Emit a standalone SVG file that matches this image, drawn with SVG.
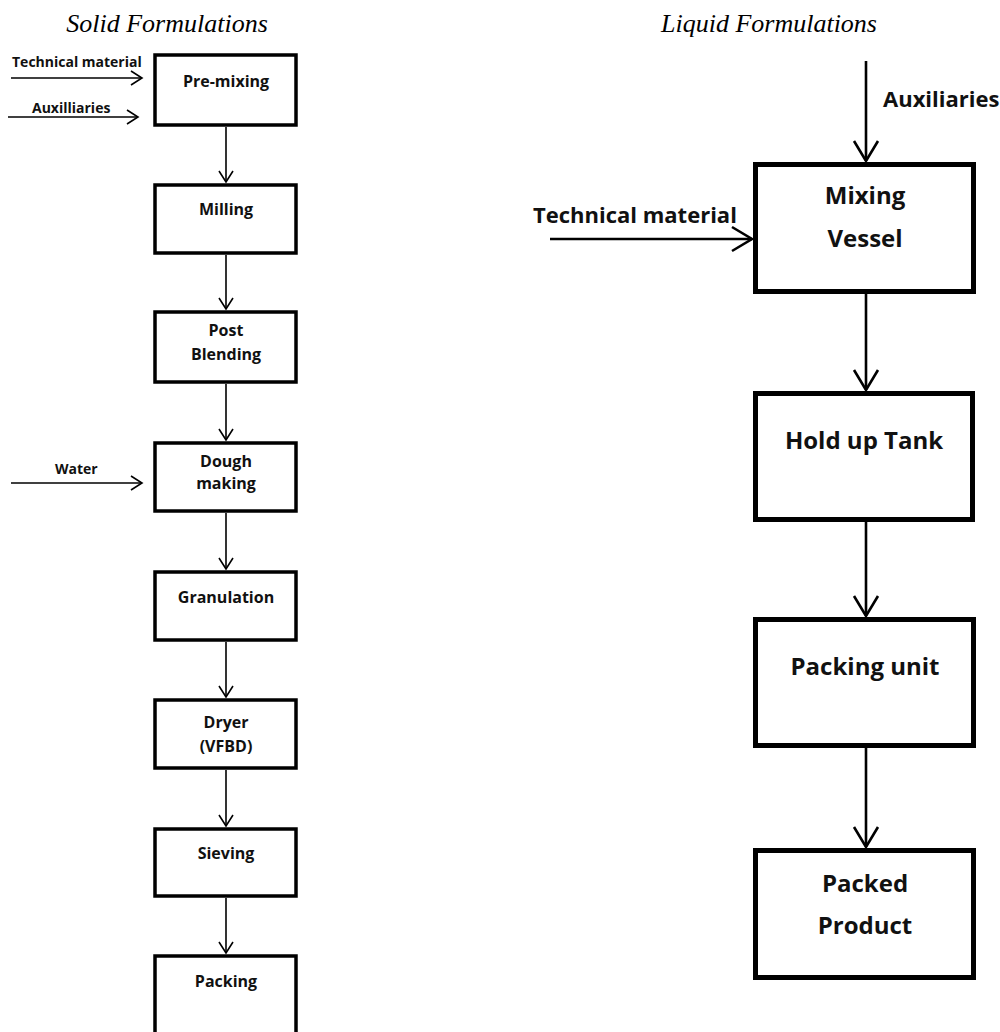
<svg xmlns="http://www.w3.org/2000/svg" width="1000" height="1032" viewBox="0 0 1000 1032">
<style>
.title{font-family:"Liberation Serif","Times New Roman",serif;font-style:italic;font-size:26px;fill:#000;text-anchor:middle}
.lbox{fill:#fff;stroke:#000;stroke-width:3.5}
.rbox{fill:#fff;stroke:#000;stroke-width:5}
.lt{font-family:"Open Sans","Liberation Sans",sans-serif;font-weight:bold;font-size:16px;fill:#111;text-anchor:middle}
.ll{font-family:"Open Sans","Liberation Sans",sans-serif;font-weight:bold;font-size:14px;fill:#111}
.rt{font-family:"Open Sans","Liberation Sans",sans-serif;font-weight:bold;font-size:24px;fill:#111;text-anchor:middle}
.rl{font-family:"Open Sans","Liberation Sans",sans-serif;font-weight:bold;font-size:22px;fill:#111}
.lc{stroke:#000;stroke-width:1.6;fill:none;marker-end:url(#ah1)}
.rc{stroke:#000;stroke-width:2.6;fill:none;marker-end:url(#ah2)}
</style>
<defs>
<marker id="ah1" markerUnits="userSpaceOnUse" markerWidth="16" markerHeight="18" refX="12" refY="8" orient="auto" viewBox="0 0 16 18" overflow="visible">
<path d="M1,1 L12,8 L1,15" fill="none" stroke="#000" stroke-width="1.6"/>
</marker>
<marker id="ah2" markerUnits="userSpaceOnUse" markerWidth="26" markerHeight="30" refX="21" refY="13" orient="auto" viewBox="0 0 26 30" overflow="visible">
<path d="M1,1 L21,13 L1,25" fill="none" stroke="#000" stroke-width="2.6"/>
</marker>
</defs>
<rect width="1000" height="1032" fill="#fff"/>
<text class="title" x="167" y="32">Solid Formulations</text>
<text class="title" x="769" y="32">Liquid Formulations</text>

<g id="connectors">
<line class="lc" x1="11" y1="78" x2="142" y2="78"/>
<line class="lc" x1="8" y1="117" x2="138" y2="117"/>
<line class="lc" x1="11" y1="483" x2="142" y2="483"/>
<line class="lc" x1="226" y1="127" x2="226" y2="182"/>
<line class="lc" x1="226" y1="255" x2="226" y2="309"/>
<line class="lc" x1="226" y1="384" x2="226" y2="440"/>
<line class="lc" x1="226" y1="513" x2="226" y2="569"/>
<line class="lc" x1="226" y1="642" x2="226" y2="697"/>
<line class="lc" x1="226" y1="770" x2="226" y2="826"/>
<line class="lc" x1="226" y1="898" x2="226" y2="953"/>
<line class="rc" x1="866" y1="61" x2="866" y2="161"/>
<line class="rc" x1="550" y1="239" x2="752" y2="239"/>
<line class="rc" x1="866" y1="294" x2="866" y2="390"/>
<line class="rc" x1="866" y1="522" x2="866" y2="616"/>
<line class="rc" x1="866" y1="748" x2="866" y2="847"/>
<text class="ll" x="12" y="67">Technical material</text>
<text class="ll" x="32" y="113">Auxilliaries</text>
<text class="ll" x="55" y="474">Water</text>
<text class="rl" x="883" y="107">Auxiliaries</text>
<text class="rl" x="533" y="223">Technical material</text>
</g>

<g id="pre-mixing"><rect class="lbox" x="155" y="55" width="141" height="70"/><text class="lt" x="226" y="87">Pre-mixing</text></g>
<g id="milling"><rect class="lbox" x="155" y="185" width="141" height="68"/><text class="lt" x="226" y="215">Milling</text></g>
<g id="post-blending"><rect class="lbox" x="155" y="312" width="141" height="70"/><text class="lt" x="226" y="336">Post</text><text class="lt" x="226" y="360">Blending</text></g>
<g id="dough-making"><rect class="lbox" x="155" y="443" width="141" height="68"/><text class="lt" x="226" y="467">Dough</text><text class="lt" x="226" y="489">making</text></g>
<g id="granulation"><rect class="lbox" x="155" y="572" width="141" height="68"/><text class="lt" x="226" y="603">Granulation</text></g>
<g id="dryer"><rect class="lbox" x="155" y="700" width="141" height="68"/><text class="lt" x="226" y="728">Dryer</text><text class="lt" x="226" y="752">(VFBD)</text></g>
<g id="sieving"><rect class="lbox" x="155" y="829" width="141" height="67"/><text class="lt" x="226" y="859">Sieving</text></g>
<g id="packing"><rect class="lbox" x="155" y="956" width="141" height="90"/><text class="lt" x="226" y="987">Packing</text></g>

<g id="mixing-vessel"><rect class="rbox" x="755.5" y="164.5" width="218" height="127"/><text class="rt" x="865" y="204">Mixing</text><text class="rt" x="865" y="247">Vessel</text></g>
<g id="hold-up-tank"><rect class="rbox" x="755.5" y="393.5" width="217" height="126"/><text class="rt" x="864" y="449">Hold up Tank</text></g>
<g id="packing-unit"><rect class="rbox" x="755.5" y="619.5" width="218" height="126"/><text class="rt" x="865" y="675">Packing unit</text></g>
<g id="packed-product"><rect class="rbox" x="755.5" y="850.5" width="218" height="127"/><text class="rt" x="865" y="892">Packed</text><text class="rt" x="865" y="934">Product</text></g>
</svg>
